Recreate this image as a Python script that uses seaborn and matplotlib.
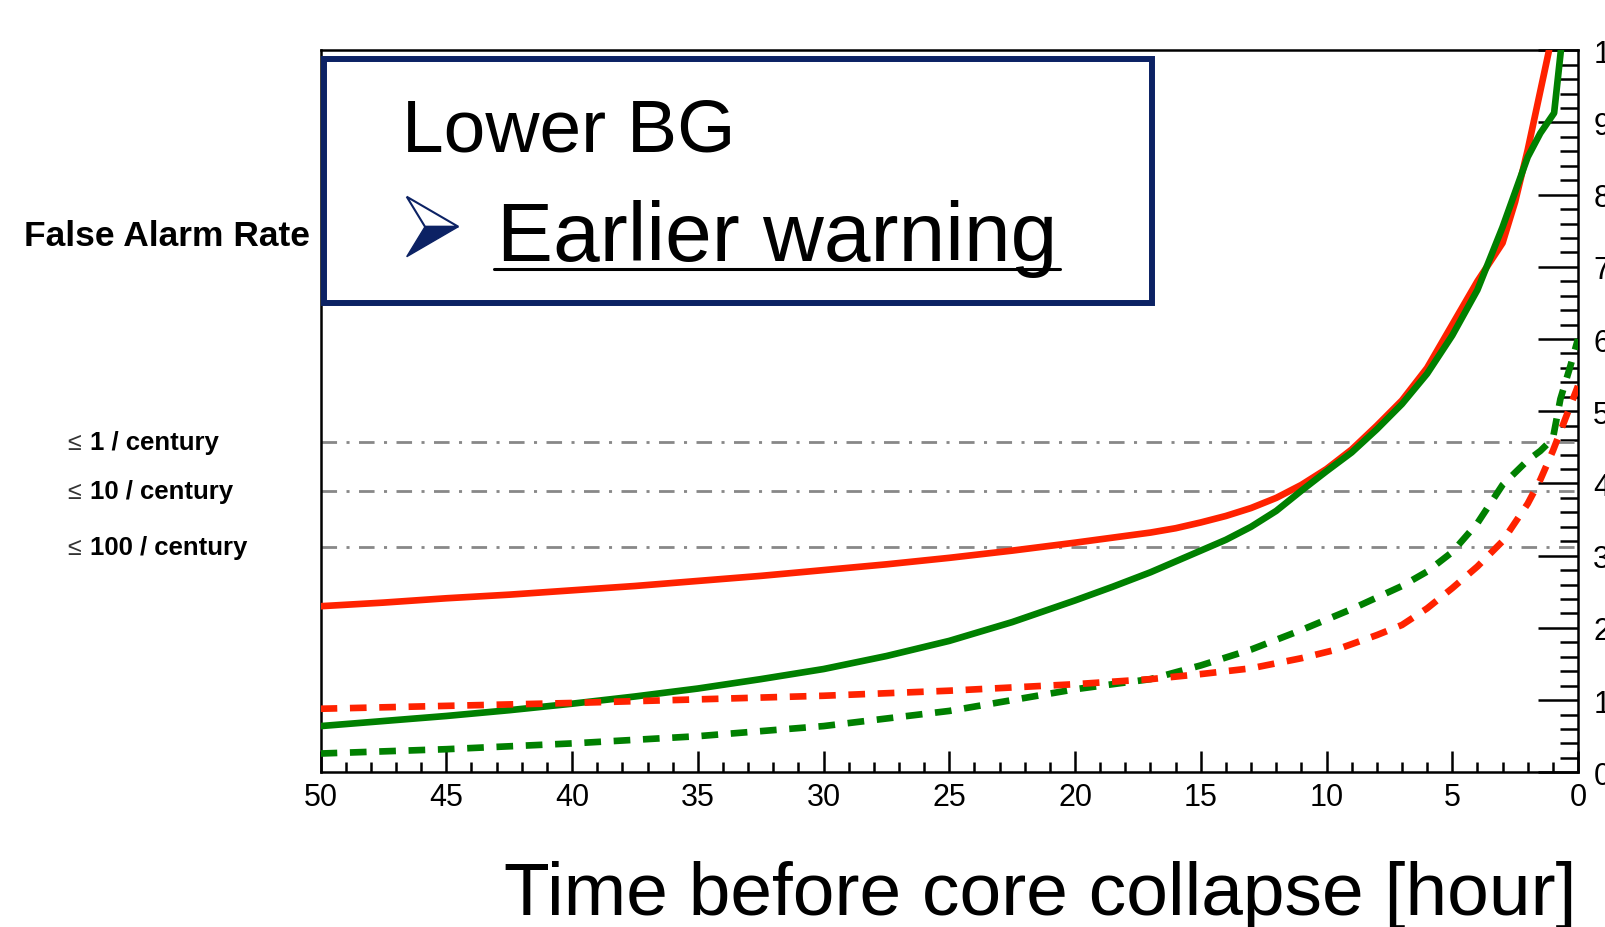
import numpy as np
import pandas as pd
import matplotlib
matplotlib.use("Agg")
import matplotlib.pyplot as plt
import seaborn as sns
from matplotlib.ticker import MultipleLocator
from matplotlib.patches import Rectangle, Polygon
from matplotlib.lines import Line2D

# ---------------- data ----------------
red_solid_t = [50, 47.5, 45, 42.5, 40, 37.5, 35, 32.5, 30, 27.5, 25, 22.5, 20, 18.5, 17, 16, 15, 14, 13, 12,
               11, 10, 9, 8, 7, 6, 5, 4, 3, 2.5, 2, 1.15]
red_solid_v = [2.30, 2.35, 2.41, 2.46, 2.52, 2.58, 2.65, 2.72, 2.80, 2.88, 2.97, 3.07, 3.18, 3.25, 3.32, 3.38,
               3.46, 3.55, 3.66, 3.80, 3.98, 4.20, 4.47, 4.80, 5.15, 5.60, 6.20, 6.80, 7.33, 7.90, 8.62, 10.0]

green_solid_t = [50, 47.5, 45, 42.5, 40, 37.5, 35, 32.5, 30, 27.5, 25, 22.5, 20, 18.5, 17, 16, 15, 14, 13, 12,
                 11, 10, 9, 8, 7, 6, 5, 4, 3, 2, 1.5, 0.95, 0.68]
green_solid_v = [0.64, 0.71, 0.78, 0.86, 0.95, 1.05, 1.16, 1.29, 1.43, 1.61, 1.82, 2.08, 2.38, 2.57, 2.77, 2.92,
                 3.07, 3.22, 3.40, 3.62, 3.90, 4.17, 4.43, 4.75, 5.10, 5.52, 6.05, 6.68, 7.55, 8.52, 8.85, 9.13, 10.0]

red_dash_t = [50, 45, 40, 35, 30, 25, 20, 17, 15, 13, 11, 9.6, 8, 7, 6, 5, 4, 3, 2, 1.5, 1, 0.5, 0]
red_dash_v = [0.88, 0.92, 0.96, 1.01, 1.06, 1.13, 1.22, 1.29, 1.36, 1.44, 1.58, 1.70, 1.90, 2.04, 2.27,
              2.55, 2.85, 3.20, 3.72, 4.05, 4.45, 4.90, 5.35]

green_dash_t = [50, 45, 40, 35, 30, 25, 20, 17, 15, 13, 11, 9, 7, 6, 5, 4, 3, 2, 1.5, 1, 0.7, 0.3, 0]
green_dash_v = [0.26, 0.32, 0.40, 0.50, 0.64, 0.85, 1.15, 1.29, 1.48, 1.70, 1.97, 2.26, 2.58, 2.78, 3.05,
                3.45, 3.98, 4.32, 4.45, 4.62, 5.17, 5.63, 6.0]

threshold_values = [4.57, 3.90, 3.12]
threshold_labels = ["1 / century", "10 / century", "100 / century"]

x_ticks = [50, 45, 40, 35, 30, 25, 20, 15, 10, 5, 0]
y_ticks = [0, 1, 2, 3, 4, 5, 6, 7, 8, 9, 10]

title_line1 = "Lower BG"
title_line2 = "Earlier warning"
x_title = "Time before core collapse [hour]"
y_title = "False Alarm Rate"

# ---------------- style ----------------
sns.set_style("white")
plt.rcParams['font.family'] = ['Liberation Sans', 'DejaVu Sans']
plt.rcParams['text.color'] = 'black'
plt.rcParams['xtick.color'] = 'black'
plt.rcParams['ytick.color'] = 'black'
plt.rcParams['xtick.labelcolor'] = 'black'
plt.rcParams['ytick.labelcolor'] = 'black'

W, H = 1606, 928
fig = plt.figure(figsize=(W / 100, H / 100), dpi=100)
fig.patch.set_facecolor("white")

def fx(px):
    return px / W

def fy(py):
    return 1 - py / H

ax_l, ax_r, ax_t, ax_b = 320.6, 1578.0, 51.2, 773.3
ax = fig.add_axes([fx(ax_l), fy(ax_b), fx(ax_r) - fx(ax_l), (ax_b - ax_t) / H])

RED = "#ff2200"
GREEN = "#008000"
LW = 4.8

series = [
    (red_solid_t, red_solid_v, RED, "-"),
    (green_solid_t, green_solid_v, GREEN, "-"),
    (green_dash_t, green_dash_v, GREEN, (0, (2.5, 1.9))),
    (red_dash_t, red_dash_v, RED, (0, (2.5, 1.9))),
]

for vals in threshold_values:
    ax.axhline(vals, color="#888888", lw=2.0, linestyle=(0, (5.6, 3.4, 1.1, 3.4)), zorder=1)

for t, v, c, ls in series:
    df = pd.DataFrame({"t": t, "v": v})
    sns.lineplot(data=df, x="t", y="v", color=c, linewidth=LW, linestyle=ls,
                 ax=ax, legend=False, errorbar=None, sort=False, zorder=3)

ax.set_xlim(50, 0)
ax.set_ylim(0, 10)
ax.set_xlabel("")
ax.set_ylabel("")

ax.xaxis.set_major_locator(MultipleLocator(5))
ax.xaxis.set_minor_locator(MultipleLocator(1))
ax.yaxis.set_major_locator(MultipleLocator(1))
ax.yaxis.set_minor_locator(MultipleLocator(0.2))
ax.set_xticks(x_ticks)
ax.set_xticklabels([str(v) for v in x_ticks])
ax.set_yticks(y_ticks)
ax.set_yticklabels([str(v) for v in y_ticks])

ax.tick_params(axis="x", which="both", direction="in", bottom=True, top=False,
               labelbottom=True, labelsize=22, pad=7, width=1.8, color="black", labelcolor="black")
ax.tick_params(axis="x", which="major", length=15)
ax.tick_params(axis="x", which="minor", length=7.5)
ax.tick_params(axis="y", which="both", direction="in", left=False, right=True,
               labelleft=False, labelright=True, labelsize=22, pad=11, width=1.8, color="black",
               labelcolor="black")
ax.tick_params(axis="y", which="major", length=29)
ax.tick_params(axis="y", which="minor", length=13)

for s in ax.spines.values():
    s.set_visible(True)
    s.set_linewidth(1.8)
    s.set_color("black")

# ---------------- left annotations ----------------
fig.text(fx(24), fy(237), y_title, fontsize=25.5, fontweight="bold", ha="left", va="center", color="black")
for val, lab in zip(threshold_values, threshold_labels):
    ypix = ax.transData.transform((0, val))[1]
    yf = ypix / H
    fig.text(fx(67), yf, "\u2264", fontsize=18, ha="left", va="center", color="#333333")
    fig.text(fx(90), yf, lab, fontsize=18.5, fontweight="bold", ha="left", va="center", color="black")

# ---------------- x title ----------------
fig.text(fx(1577), fy(914.6), x_title, fontsize=54, ha="right", va="baseline", color="black")

# ---------------- box with text ----------------
NAVY = "#0c2264"
box = Rectangle((fx(324), fy(304)), fx(1152) - fx(324), (304 - 60) / H,
                transform=fig.transFigure, facecolor="white", edgecolor=NAVY,
                linewidth=4.3, zorder=5)
fig.add_artist(box)
fig.text(fx(402.5), fy(151.6), title_line1, fontsize=54, ha="left", va="baseline", zorder=6, color="black")
fig.text(fx(497), fy(261.2), title_line2, fontsize=60.5, ha="left", va="baseline", zorder=6, color="black")
fig.add_artist(Line2D([fx(494), fx(1060)], [fy(269.5), fy(269.5)], transform=fig.transFigure,
                      color="black", linewidth=2.2, zorder=6))

upper = Polygon([(fx(406.7), fy(197.7)), (fx(458.3), fy(227.7)), (fx(425), fy(227.7))],
                closed=True, transform=fig.transFigure, facecolor="white", edgecolor=NAVY,
                linewidth=1.5, zorder=6)
lower = Polygon([(fx(425), fy(227.7)), (fx(458.3), fy(227.7)), (fx(406.7), fy(257.7))],
                closed=True, transform=fig.transFigure, facecolor=NAVY, edgecolor=NAVY,
                linewidth=1.0, zorder=6)
fig.add_artist(upper)
fig.add_artist(lower)

fig.savefig("out.png", dpi=100)
